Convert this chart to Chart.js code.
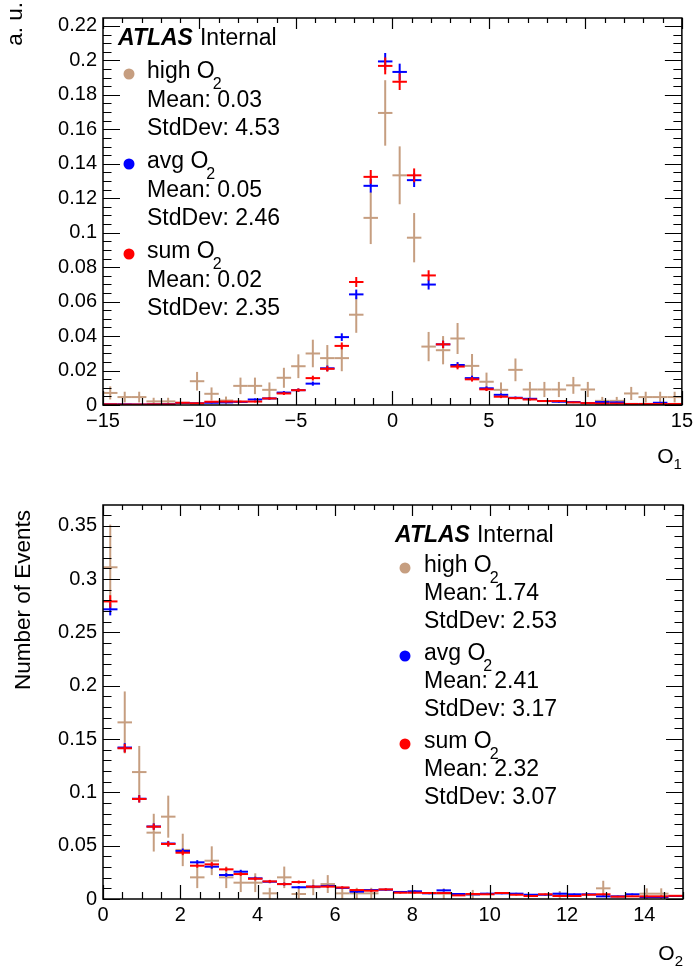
<!DOCTYPE html>
<html><head><meta charset="utf-8">
<script src="https://cdn.jsdelivr.net/npm/chart.js@4/dist/chart.umd.min.js"></script>
<style>
html,body{margin:0;padding:0;background:#fff;width:697px;height:969px;overflow:hidden}
canvas{position:absolute;left:0;display:block}
</style></head><body>
<canvas id="c1" width="697" height="485" style="top:0"></canvas>
<canvas id="c2" width="697" height="484" style="top:485px"></canvas>
<script>
// ---------- DATA: top panel (O1) ----------
const binsTop = [-14.625,-13.875,-13.125,-12.375,-11.625,-10.875,-10.125,-9.375,-8.625,-7.875,-7.125,-6.375,-5.625,-4.875,-4.125,-3.375,-2.625,-1.875,-1.125,-0.375,0.375,1.125,1.875,2.625,3.375,4.125,4.875,5.625,6.375,7.125,7.875,8.625,9.375,10.125,10.875,11.625,12.375,13.125,13.875,14.625];
const highTop = [0.007,0.0046,0.0046,0.0021,0.0021,0,0.0138,0.0065,0.0026,0.0111,0.0111,0.0088,0.0158,0.0225,0.0299,0.0272,0.0272,0.0524,0.1086,0.1695,0.1333,0.0971,0.0339,0.0318,0.0386,0.0227,0.0135,0.0088,0.0204,0.009,0.009,0.009,0.0114,0.009,0.0024,0.0024,0.0067,0.0046,0.0046,0.0046];
const highTopErr = [0.0038,0.0031,0.0031,0.0021,0.0021,0,0.0054,0.0037,0.0023,0.0048,0.0048,0.0043,0.0058,0.0069,0.008,0.0076,0.0076,0.0105,0.0152,0.019,0.0168,0.0143,0.0085,0.0082,0.009,0.0069,0.0053,0.0043,0.0066,0.0044,0.0044,0.0044,0.0049,0.0044,0.0023,0.0023,0.0038,0.0031,0.0031,0.0031];
const avgTop = [0.0004,0.0004,0.0003,0.0004,0.0005,0.0012,0.001,0.0013,0.0015,0.0018,0.0032,0.0038,0.0072,0.0086,0.0124,0.0213,0.0394,0.0642,0.1272,0.1994,0.1933,0.1305,0.0699,0.0352,0.0232,0.0156,0.0097,0.0059,0.0042,0.0036,0.0023,0.0019,0.0017,0.0011,0.0017,0.0015,0.0006,0.0006,0.0013,0.0004];
const avgTopErr = [0.0002,0.0002,0.0002,0.0002,0.0002,0.0004,0.0003,0.0004,0.0004,0.0005,0.0006,0.0007,0.0009,0.001,0.0012,0.0016,0.0022,0.0028,0.0039,0.0049,0.0048,0.004,0.0029,0.0021,0.0017,0.0014,0.0011,0.0008,0.0007,0.0007,0.0005,0.0005,0.0005,0.0004,0.0005,0.0004,0.0003,0.0003,0.0004,0.0002];
const sumTop = [0.0004,0.0003,0.0003,0.0004,0.0004,0.0013,0.001,0.0019,0.002,0.002,0.002,0.0038,0.0067,0.0086,0.0156,0.021,0.0343,0.0714,0.1324,0.1968,0.1876,0.1333,0.0752,0.0352,0.0223,0.0149,0.0091,0.0048,0.004,0.0032,0.0023,0.0023,0.0015,0.0011,0.0008,0.0008,0.0006,0.0006,0.0006,0.0006];
const sumTopErr = [0.0002,0.0002,0.0002,0.0002,0.0002,0.0004,0.0003,0.0005,0.0005,0.0005,0.0005,0.0007,0.0009,0.001,0.0014,0.0016,0.002,0.0029,0.004,0.0049,0.0048,0.004,0.003,0.0021,0.0016,0.0013,0.001,0.0008,0.0007,0.0006,0.0005,0.0005,0.0004,0.0004,0.0003,0.0003,0.0003,0.0003,0.0003,0.0003];
const xTicksTop = [-15,-10,-5,0,5,10,15];
const yTicksTop = [0,0.02,0.04,0.06,0.08,0.1,0.12,0.14,0.16,0.18,0.2,0.22];
const statsTop = {high:["0.03","4.53"], avg:["0.05","2.46"], sum:["0.02","2.35"]};

// ---------- DATA: bottom panel (O2) ----------
const binsBot = [0.1875,0.5625,0.9375,1.3125,1.6875,2.0625,2.4375,2.8125,3.1875,3.5625,3.9375,4.3125,4.6875,5.0625,5.4375,5.8125,6.1875,6.5625,6.9375,7.3125,7.6875,8.0625,8.4375,8.8125,9.1875,9.5625,9.9375,10.3125,10.6875,11.0625,11.4375,11.8125,12.1875,12.5625,12.9375,13.3125,13.6875,14.0625,14.4375,14.8125];
const highBot = [0.311,0.1656,0.119,0.0622,0.0772,0.046,0.0203,0.0359,0.0203,0.0153,0.0153,0.0053,0.0203,0.0047,0.011,0.014,0.0053,0.0053,0.0053,0,0,0,0,0.005,0,0.004,0,0,0,0,0,0.0034,0,0,0.01,0,0,0.005,0.005,0];
const highBotErr = [0.04,0.029,0.0245,0.0177,0.0197,0.0152,0.0101,0.0135,0.0101,0.0088,0.0088,0.0052,0.0101,0.0049,0.0074,0.0084,0.0052,0.0052,0.0052,0,0,0,0,0.005,0,0.0045,0,0,0,0,0,0.0041,0,0,0.0071,0,0,0.005,0.005,0];
const avgBot = [0.2716,0.142,0.094,0.068,0.052,0.045,0.0344,0.0303,0.0225,0.0256,0.0194,0.0162,0.014,0.011,0.0116,0.0122,0.0104,0.0069,0.0084,0.0087,0.0066,0.0072,0.0053,0.0081,0.0047,0.0044,0.005,0.0053,0.005,0.004,0.004,0.005,0.0044,0.0044,0.0025,0.0025,0.0044,0.0019,0.0019,0.0028];
const avgBotErr = [0.0057,0.0041,0.0034,0.0029,0.0025,0.0023,0.002,0.0019,0.0017,0.0018,0.0015,0.0014,0.0013,0.0012,0.0012,0.0012,0.0011,0.0009,0.001,0.001,0.0009,0.0009,0.0008,0.001,0.0008,0.0007,0.0008,0.0008,0.0008,0.0007,0.0007,0.0008,0.0007,0.0007,0.0006,0.0006,0.0007,0.0005,0.0005,0.0006];
const sumBot = [0.279,0.1413,0.0938,0.0678,0.0516,0.0434,0.0312,0.0325,0.0278,0.0234,0.019,0.0165,0.014,0.0159,0.0116,0.0116,0.0108,0.0084,0.0078,0.009,0.0059,0.0059,0.0056,0.0056,0.0034,0.0047,0.0044,0.0056,0.004,0.0028,0.0044,0.0028,0.0028,0.004,0.0044,0.0022,0.0025,0.0025,0.0025,0.003];
const sumBotErr = [0.0058,0.0041,0.0034,0.0029,0.0025,0.0023,0.0019,0.002,0.0018,0.0017,0.0015,0.0014,0.0013,0.0014,0.0012,0.0012,0.0011,0.001,0.001,0.001,0.0008,0.0008,0.0008,0.0008,0.0006,0.0008,0.0007,0.0008,0.0007,0.0006,0.0007,0.0006,0.0006,0.0007,0.0007,0.0005,0.0006,0.0006,0.0006,0.0006];
const xTicksBot = [0,2,4,6,8,10,12,14];
const yTicksBot = [0,0.05,0.1,0.15,0.2,0.25,0.3,0.35];
const statsBot = {high:["1.74","2.53"], avg:["2.41","3.17"], sum:["2.32","3.07"]};

// ---------- STYLE ----------
const COL = {high:'rgb(198,158,128)', avg:'rgb(0,0,255)', sum:'rgb(255,0,0)'};
const FONT = '"Liberation Sans", Arial, Helvetica, sans-serif';

function mkData(xs, ys, es){ return xs.map((x,i)=>({x:x, y:ys[i], e:es[i]})); }

const rootPlugin = {
  id:'rootStyle',
  afterDatasetsDraw(chart){
    const o = chart.options.plugins.rootStyle;
    const ctx = chart.ctx, xs = chart.scales.x, ys = chart.scales.y, ca = chart.chartArea;
    ctx.save();
    ctx.beginPath(); ctx.rect(ca.left, ca.top, ca.right-ca.left, ca.bottom-ca.top); ctx.clip();
    chart.data.datasets.forEach(ds=>{
      ctx.strokeStyle = ds.borderColor; ctx.lineWidth = 2;
      ds.data.forEach(p=>{
        if (p.y <= 0) return;
        const x0 = xs.getPixelForValue(p.x - o.hw), x1 = xs.getPixelForValue(p.x + o.hw);
        const xc = xs.getPixelForValue(p.x), yc = ys.getPixelForValue(p.y);
        ctx.beginPath(); ctx.moveTo(x0, yc); ctx.lineTo(x1, yc); ctx.stroke();
        if (p.e > 0){
          const ya = ys.getPixelForValue(p.y - p.e), yb = ys.getPixelForValue(p.y + p.e);
          ctx.beginPath(); ctx.moveTo(xc, ya); ctx.lineTo(xc, yb); ctx.stroke();
        }
      });
    });
    ctx.restore();
    // frame & ticks
    ctx.save();
    ctx.strokeStyle = '#000'; ctx.lineWidth = 1.5;
    ctx.strokeRect(ca.left, ca.top, ca.right-ca.left, ca.bottom-ca.top);
    ctx.lineWidth = 1.2;
    for (let v = xs.min; v <= xs.max + 1e-9; v += o.xMinor){
      const px = Math.round(xs.getPixelForValue(v))+0.5;
      const isMaj = Math.abs(v/o.xMajor - Math.round(v/o.xMajor)) < 1e-6;
      const L = isMaj ? 14 : 7;
      ctx.beginPath(); ctx.moveTo(px, ca.bottom); ctx.lineTo(px, ca.bottom - L);
      ctx.moveTo(px, ca.top); ctx.lineTo(px, ca.top + (isMaj ? 11 : 5)); ctx.stroke();
    }
    for (let v = ys.min; v <= ys.max + 1e-9; v += o.yMinor){
      const py = Math.round(ys.getPixelForValue(v))+0.5;
      const isMaj = Math.abs(v/o.yMajor - Math.round(v/o.yMajor)) < 1e-6;
      const L = isMaj ? 17 : 8.5;
      ctx.beginPath(); ctx.moveTo(ca.left, py); ctx.lineTo(ca.left + L, py);
      ctx.moveTo(ca.right, py); ctx.lineTo(ca.right - L, py); ctx.stroke();
    }
    ctx.restore();
    // axis titles
    ctx.save();
    ctx.fillStyle = '#000';
    ctx.textBaseline = 'alphabetic';
    const xt = o.xTitle;
    ctx.font = '21px ' + FONT;
    const wO = ctx.measureText('O').width;
    ctx.font = '15px ' + FONT;
    const wS = ctx.measureText(xt.sub).width;
    const xr = ca.right;
    ctx.font = '21px ' + FONT;
    ctx.fillText('O', xr - wS - wO, xt.y);
    ctx.font = '15px ' + FONT;
    ctx.fillText(xt.sub, xr - wS, xt.y + 6);
    ctx.save();
    ctx.font = '22.5px ' + FONT;
    ctx.translate(o.yTitle.x, o.yTitle.y);
    ctx.rotate(-Math.PI/2);
    ctx.textAlign = 'right';
    ctx.fillText(o.yTitle.text, 0, 0);
    ctx.restore();
    // legend
    const L = o.legend;
    ctx.font = 'bold italic 23px ' + FONT;
    ctx.fillText('ATLAS', L.x0, L.atlasY);
    const wA = ctx.measureText('ATLAS').width;
    ctx.font = '23px ' + FONT;
    ctx.fillText('Internal', L.x0 + wA + 7, L.atlasY);
    const names = [['high','high'],['avg','avg'],['sum','sum']];
    names.forEach((n, g)=>{
      const base = L.firstY + g*L.groupDy;
      ctx.fillStyle = COL[n[0]];
      ctx.beginPath(); ctx.arc(L.dotX, base - 4, 5.5, 0, Math.PI*2); ctx.fill();
      ctx.fillStyle = '#000';
      ctx.font = '23px ' + FONT;
      const lab = n[1] + ' O';
      ctx.fillText(lab, L.textX, base);
      const wl = ctx.measureText(lab).width;
      ctx.font = '16px ' + FONT;
      ctx.fillText('2', L.textX + wl - 2, base + 11);
      ctx.font = '23px ' + FONT;
      ctx.fillText('Mean: ' + o.stats[n[0]][0], L.textX, base + L.lineDy);
      ctx.fillText('StdDev: ' + o.stats[n[0]][1], L.textX, base + 2*L.lineDy);
    });
    ctx.restore();
  }
};

function makeChart(id, cfg){
  return new Chart(document.getElementById(id), {
    type:'scatter',
    data:{datasets:[
      {label:'high O2', data:mkData(cfg.bins, cfg.high, cfg.highErr), borderColor:COL.high, backgroundColor:COL.high, pointRadius:0},
      {label:'avg O2', data:mkData(cfg.bins, cfg.avg, cfg.avgErr), borderColor:COL.avg, backgroundColor:COL.avg, pointRadius:0},
      {label:'sum O2', data:mkData(cfg.bins, cfg.sum, cfg.sumErr), borderColor:COL.sum, backgroundColor:COL.sum, pointRadius:0}
    ]},
    options:{
      responsive:false, animation:false, devicePixelRatio:1,
      layout:{padding:{top:cfg.padTop, right:14, left:0, bottom:0}},
      events:[],
      plugins:{legend:{display:false}, tooltip:{enabled:false}, title:{display:false},
        rootStyle:cfg.root},
      scales:{
        x:{type:'linear', min:cfg.xmin, max:cfg.xmax,
           grid:{display:false, drawTicks:false}, border:{display:false},
           afterBuildTicks:s=>{ s.ticks = cfg.xTicks.map(v=>({value:v})); },
           afterFit:s=>{ s.height = cfg.xH; },
           ticks:{color:'#000', font:{family:FONT, size:20}, padding:4, maxRotation:0, autoSkip:false,
             callback:v=> (v<0 ? '\u2212' + Math.abs(v) : String(v))}},
        y:{type:'linear', min:0, max:cfg.ymax,
           grid:{display:false, drawTicks:false}, border:{display:false},
           afterBuildTicks:s=>{ s.ticks = cfg.yTicks.map(v=>({value:v})); },
           afterFit:s=>{ s.width = 103; },
           ticks:{color:'#000', font:{family:FONT, size:20}, padding:6, autoSkip:false,
             callback:v=> String(Math.round(v*1000)/1000)}}
      }
    },
    plugins:[rootPlugin]
  });
}

makeChart('c1', {bins:binsTop, high:highTop, highErr:highTopErr, avg:avgTop, avgErr:avgTopErr, sum:sumTop, sumErr:sumTopErr,
  xmin:-15, xmax:15, ymax:0.2246, xTicks:xTicksTop, yTicks:yTicksTop, padTop:12, xH:80,
  root:{hw:0.375, xMinor:1, xMajor:5, yMinor:0.005, yMajor:0.02,
        xTitle:{sub:'1', y:463}, yTitle:{x:22, y:2, text:'a. u.'},
        stats:statsTop,
        legend:{x0:118, atlasY:45, dotX:129, textX:147, firstY:78, groupDy:90, lineDy:28.5}}});

makeChart('c2', {bins:binsBot, high:highBot, highErr:highBotErr, avg:avgBot, avgErr:avgBotErr, sum:sumBot, sumErr:sumBotErr,
  xmin:0, xmax:15, ymax:0.3694, xTicks:xTicksBot, yTicks:yTicksBot, padTop:20, xH:70,
  root:{hw:0.1875, xMinor:0.5, xMajor:2, yMinor:0.01, yMajor:0.05,
        xTitle:{sub:'2', y:475}, yTitle:{x:30, y:25, text:'Number of Events'},
        stats:statsBot,
        legend:{x0:395, atlasY:57, dotX:405, textX:424, firstY:87, groupDy:88, lineDy:28}}});
</script>
</body></html>
